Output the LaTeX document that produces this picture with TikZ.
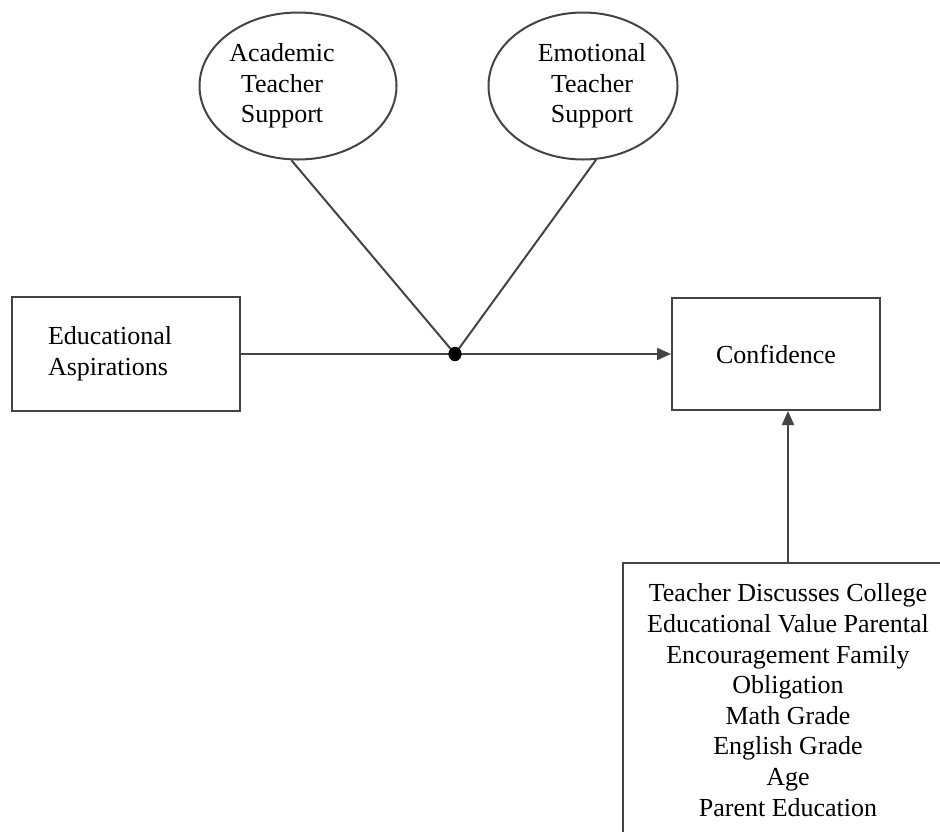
\documentclass[tikz,border=0pt]{standalone}
\usepackage{fontspec}
\setmainfont{Liberation Serif}
\usepackage{tikz}
\usetikzlibrary{positioning,arrows.meta,shapes.geometric}
\definecolor{linegray}{HTML}{444444}

\begin{document}
\begin{tikzpicture}[x=0.5pt,y=-0.5pt,
  font=\fontsize{13}{15.3}\selectfont,
  box/.style={draw=linegray,line width=1pt,rectangle,inner sep=0pt},
  oval/.style={draw=linegray,line width=1pt,ellipse,inner sep=0pt,minimum height=73.5pt},
  link/.style={line width=1pt,color=linegray},
  arr/.style={link,-{Triangle[length=7pt,width=6pt]}}
]
  \clip (0,0) rectangle (940,831);
  \node[box,minimum width=114pt,minimum height=57pt,text width=78pt,inner xsep=18pt,align=left] (asp) at (126,354) {Educational\\Aspirations};
  \node[box,minimum width=104pt,minimum height=56pt] (conf) at (776,354) {Confidence};
  \node[box,minimum width=165pt,minimum height=137pt,align=center] (ctrl) at (788,700) {Teacher Discusses College\\Educational Value Parental\\Encouragement Family\\Obligation\\Math Grade\\English Grade\\Age\\Parent Education};
  \node[oval,minimum width=98.5pt,label={[align=center,xshift=-8pt]center:Academic\\Teacher\\Support}] (ats) at (298,86) {};
  \node[oval,minimum width=94.5pt,label={[align=center,xshift=4.5pt]center:Emotional\\Teacher\\Support}] (ets) at (583,86) {};
  \node[circle,inner sep=0pt,minimum size=6.6pt] (mod) at (455,354) {};
  \draw[arr] (asp) -- (conf);
  \draw[link] (ats.265) -- (mod.center);
  \draw[link] (ets.280) -- (mod.center);
  \fill (mod) circle[x radius=3.3pt,y radius=3.6pt];
  \draw[arr] (ctrl.north) -- (ctrl.north |- conf.south);
\end{tikzpicture}
\end{document}
